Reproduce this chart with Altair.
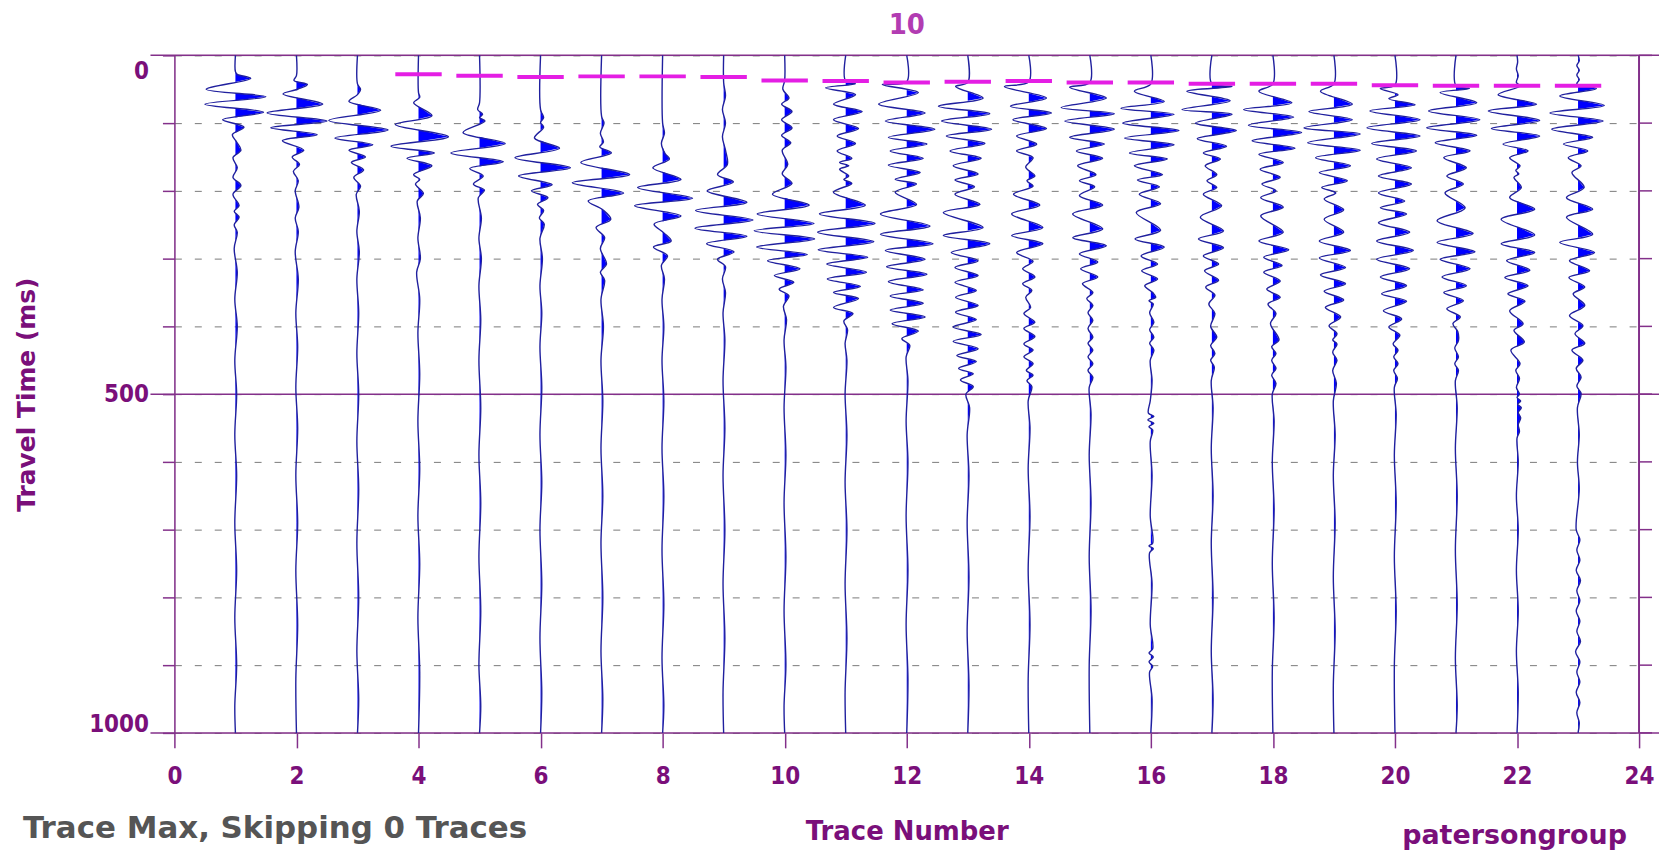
import altair as alt
import pandas as pd

# ---------------- data ----------------
TRACE_NUMBERS = list(range(1, 24))

# (travel time ms, amplitude in trace-spacing units) for each trace
TRACE_01 = [(0,0),(24,0),(28,0.03),(34,0.25),(50,-0.48),(61,0.5),(72,-0.5),(84,0.46),(95,-0.21),(106,0.14),(117,-0.05),(128,0.02),(140,0.09),(151,-0.04),(166,0.03),(180,-0.04),(192,0.09),(205,-0.04),(222,0.06),(230,-0.02),(239,0.06),(250,-0.02),(261,0.03),(285,-0.02),(320,0.03),(360,-0.01),(400,0.03),(450,-0.01),(500,0.02),(560,-0.01),(620,0.02),(690,-0.01),(760,0.02),(830,-0.01),(900,0.02),(960,-0.01),(1000,0)]
TRACE_02 = [(0,0),(30,0),(37,-0.04),(43,0.18),(50,0.02),(57,-0.22),(72,0.43),(85,-0.48),(97,0.5),(107,-0.42),(117,0.34),(126,-0.23),(140,0.12),(150,-0.07),(161,0.05),(171,-0.05),(185,0.03),(200,-0.02),(224,0.04),(240,-0.02),(260,0.03),(290,-0.02),(330,0.03),(380,-0.01),(430,0.02),(490,-0.01),(550,0.02),(620,-0.01),(690,0.02),(760,-0.01),(840,0.02),(920,-0.01),(1000,0)]
TRACE_03 = [(0,0),(42,0),(50,0.05),(58,0),(68,-0.14),(81,0.38),(96,-0.47),(110,0.5),(122,-0.37),(132,0.25),(140,-0.14),(150,0.13),(158,-0.1),(169,0.1),(180,-0.06),(193,0.05),(205,-0.02),(230,0.03),(260,-0.01),(290,0.03),(330,-0.01),(380,0.02),(440,-0.01),(500,0.02),(570,-0.01),(640,0.02),(720,-0.01),(800,0.02),(880,-0.01),(950,0.02),(1000,0)]
TRACE_04 = [(0,0),(55,0),(62,0.02),(70,-0.08),(89,0.22),(102,-0.38),(120,0.49),(134,-0.45),(144,0.26),(152,-0.19),(163,0.22),(176,-0.08),(183,0.02),(190,-0.05),(204,0.08),(215,-0.02),(240,0.03),(270,-0.01),(300,0.03),(320,-0.03),(360,0.02),(410,-0.01),(470,0.02),(540,-0.01),(610,0.02),(680,-0.01),(750,0.02),(830,-0.01),(910,0.02),(1000,0)]
TRACE_05 = [(0,0),(70,0),(80,-0.03),(87,0.05),(92,0),(97,0.09),(114,-0.27),(130,0.42),(144,-0.47),(157,0.39),(167,-0.16),(178,0.06),(190,-0.1),(199,0.08),(210,-0.02),(240,0.03),(270,-0.01),(300,0.03),(340,-0.01),(390,0.02),(450,-0.01),(520,0.02),(590,-0.01),(660,0.02),(740,-0.01),(820,0.02),(900,-0.01),(960,0.02),(1000,0)]
TRACE_06 = [(0,0),(80,0),(92,0.05),(99,0),(106,0.05),(122,-0.1),(137,0.31),(151,-0.42),(166,0.49),(178,-0.36),(191,0.19),(200,-0.15),(210,0.12),(220,-0.05),(229,0.05),(240,-0.02),(249,0.06),(270,-0.01),(300,0.03),(340,-0.01),(380,0.02),(430,-0.01),(490,0.02),(560,-0.01),(630,0.02),(700,-0.01),(780,0.02),(860,-0.01),(940,0.02),(1000,0)]
TRACE_07 = [(0,0),(90,0),(100,0.04),(115,-0.02),(128,0.03),(135,-0.03),(144,0.16),(158,-0.34),(176,0.46),(188,-0.48),(203,0.36),(215,-0.22),(228,0.02),(242,0.15),(254,-0.09),(269,0.05),(285,-0.02),(308,0.08),(320,-0.02),(332,0.05),(360,-0.01),(400,0.03),(450,-0.01),(510,0.02),(580,-0.01),(650,0.02),(720,-0.01),(800,0.02),(880,-0.01),(950,0.02),(1000,0)]
TRACE_08 = [(0,0),(100,0),(115,0.03),(130,-0.02),(145,0.04),(153,0.11),(166,-0.16),(183,0.3),(195,-0.41),(211,0.49),(222,-0.46),(237,0.3),(249,-0.14),(262,0.02),(274,0.14),(283,-0.15),(296,0.08),(310,-0.02),(330,0.03),(360,-0.01),(400,0.02),(450,-0.01),(510,0.02),(580,-0.01),(650,0.02),(730,-0.01),(810,0.02),(890,-0.01),(960,0.02),(1000,0)]
TRACE_09 = [(0,0),(40,0),(60,0.03),(80,-0.02),(100,0.03),(120,-0.02),(140,0.03),(161,0.06),(176,-0.1),(187,0.16),(200,-0.27),(217,0.38),(229,-0.46),(243,0.48),(255,-0.47),(267,0.38),(278,-0.28),(290,0.17),(301,-0.1),(312,0.03),(330,-0.02),(350,0.03),(380,-0.01),(420,0.02),(480,-0.01),(550,0.02),(620,-0.01),(700,0.02),(780,-0.01),(860,0.02),(940,-0.01),(1000,0)]
TRACE_10 = [(0,0),(37,0),(50,-0.03),(63,0.07),(72,-0.05),(83,0.12),(95,-0.05),(107,0.12),(118,-0.05),(129,0.1),(140,-0.04),(161,0.05),(175,-0.04),(189,0.12),(205,-0.2),(221,0.4),(234,-0.45),(248,0.48),(259,-0.5),(271,0.49),(283,-0.46),(294,0.37),(303,-0.28),(315,0.25),(325,-0.17),(335,0.15),(345,-0.09),(355,0.07),(370,-0.02),(390,0.03),(420,-0.01),(460,0.02),(520,-0.01),(590,0.02),(660,-0.01),(740,0.02),(820,-0.01),(900,0.02),(960,-0.01),(1000,0)]
TRACE_11 = [(0,0),(38,0),(42,0.16),(48,-0.33),(58,0.16),(72,-0.2),(83,0.27),(95,-0.2),(108,0.21),(119,-0.14),(130,0.16),(141,-0.14),(152,0.1),(158,-0.1),(163,0.05),(168,-0.1),(178,0.05),(183,-0.03),(189,0.1),(202,-0.2),(221,0.32),(234,-0.43),(248,0.48),(261,-0.46),(275,0.46),(287,-0.45),(298,0.36),(308,-0.31),(320,0.34),(330,-0.3),(341,0.24),(350,-0.2),(359,0.21),(372,-0.2),(381,0.12),(392,-0.03),(405,0.03),(425,-0.01),(450,0.02),(500,-0.01),(560,0.02),(630,-0.01),(700,0.02),(780,-0.01),(860,0.02),(940,-0.01),(1000,0)]
TRACE_12 = [(0,0),(39,0),(43,-0.4),(55,0.19),(72,-0.46),(85,0.3),(97,-0.35),(109,0.46),(121,-0.3),(131,0.33),(141,-0.27),(152,0.27),(162,-0.3),(173,0.22),(183,-0.19),(190,0.16),(202,-0.19),(220,0.16),(234,-0.43),(252,0.38),(264,-0.43),(278,0.43),(288,-0.35),(301,0.3),(312,-0.33),(323,0.33),(334,-0.3),(346,0.27),(355,-0.27),(366,0.27),(376,-0.27),(386,0.3),(396,-0.24),(407,0.19),(418,-0.08),(428,0.05),(445,-0.01),(480,0.02),(540,-0.01),(600,0.02),(680,-0.01),(760,0.02),(840,-0.01),(920,0.02),(1000,0)]
TRACE_13 = [(0,0),(40,0),(46,-0.2),(63,0.25),(75,-0.48),(86,0.36),(97,-0.43),(109,0.39),(119,-0.35),(130,0.28),(141,-0.29),(152,0.22),(163,-0.24),(175,0.17),(184,-0.21),(194,0.11),(205,-0.21),(220,0.2),(232,-0.4),(254,0.25),(266,-0.4),(278,0.36),(291,-0.27),(303,0.17),(313,-0.21),(325,0.17),(335,-0.21),(347,0.14),(357,-0.2),(369,0.17),(379,-0.2),(390,0.14),(401,-0.24),(412,0.22),(422,-0.24),(433,0.17),(443,-0.18),(452,0.14),(462,-0.15),(470,0.09),(479,-0.12),(489,0.09),(500,-0.03),(520,0.03),(560,-0.01),(620,0.02),(690,-0.01),(770,0.02),(850,-0.01),(930,0.02),(1000,0)]
TRACE_14 = [(0,0),(39,0),(46,-0.4),(63,0.29),(75,-0.3),(85,0.37),(95,-0.26),(108,0.29),(119,-0.2),(131,0.13),(141,-0.2),(151,0.07),(165,-0.05),(178,0.1),(185,-0.03),(193,0.07),(205,-0.25),(221,0.18),(234,-0.28),(254,0.23),(266,-0.28),(278,0.23),(291,-0.2),(304,0.07),(315,-0.1),(327,0.1),(337,-0.1),(347,0.05),(357,-0.05),(372,0.03),(381,-0.08),(394,0.1),(403,-0.08),(415,0.1),(426,-0.08),(435,0.07),(445,-0.08),(455,0.07),(465,-0.04),(472,0.07),(480,-0.03),(489,0.05),(510,-0.01),(550,0.02),(610,-0.01),(680,0.02),(760,-0.01),(840,0.02),(920,-0.01),(1000,0)]
TRACE_15 = [(0,0),(40,0),(47,-0.33),(63,0.27),(77,-0.47),(86,0.4),(97,-0.41),(109,0.4),(121,-0.33),(131,0.24),(141,-0.22),(152,0.21),(163,-0.2),(176,0.1),(185,-0.17),(194,0.08),(207,-0.17),(221,0.21),(234,-0.28),(256,0.21),(269,-0.28),(281,0.27),(293,-0.17),(305,0.13),(315,-0.15),(327,0.13),(337,-0.12),(350,0.05),(359,-0.05),(369,0.05),(380,-0.03),(391,0.05),(403,-0.03),(416,0.05),(425,-0.03),(435,0.05),(445,-0.03),(455,0.05),(465,-0.03),(475,0.05),(490,-0.01),(530,0.02),(590,-0.01),(660,0.02),(740,-0.01),(820,0.02),(900,-0.01),(1000,0)]
TRACE_16 = [(0,0),(42,0),(53,-0.27),(68,0.22),(78,-0.49),(87,0.38),(100,-0.46),(111,0.46),(122,-0.43),(132,0.38),(144,-0.35),(153,0.27),(163,-0.27),(176,0.19),(184,-0.22),(194,0.14),(205,-0.19),(219,0.16),(232,-0.24),(258,0.16),(271,-0.26),(283,0.22),(296,-0.16),(308,0.11),(318,-0.15),(330,0.11),(340,-0.1),(350,0.03),(357,0.08),(362,-0.03),(367,0.04),(380,-0.02),(394,0.05),(405,-0.02),(416,0.05),(425,-0.02),(435,0.05),(450,-0.01),(480,0.02),(510,-0.01),(528,-0.04),(533,0.05),(538,-0.05),(543,0.05),(548,-0.03),(553,0.03),(570,-0.01),(620,0.02),(680,-0.01),(720,0.03),(724,-0.03),(728,0.04),(734,-0.02),(780,0.02),(840,-0.01),(876,0.03),(882,-0.03),(888,0.04),(895,-0.03),(902,0.03),(910,-0.02),(950,0.02),(1000,0)]
TRACE_17 = [(0,0),(42,0),(46,0.33),(53,-0.41),(67,0.3),(80,-0.49),(87,0.33),(100,-0.27),(111,0.4),(123,-0.24),(134,0.24),(144,-0.14),(153,0.14),(163,-0.11),(176,0.08),(185,-0.08),(195,0.08),(205,-0.14),(222,0.16),(239,-0.19),(259,0.19),(271,-0.22),(284,0.19),(296,-0.14),(308,0.11),(318,-0.12),(332,0.11),(342,-0.1),(354,0.05),(367,-0.05),(381,0.05),(400,-0.02),(416,0.08),(428,-0.02),(440,0.05),(450,-0.02),(460,0.04),(480,-0.01),(520,0.02),(580,-0.01),(650,0.02),(720,-0.01),(800,0.02),(880,-0.01),(950,0.02),(1000,0)]
TRACE_18 = [(0,0),(42,0),(53,-0.23),(70,0.31),(80,-0.48),(91,0.34),(103,-0.4),(114,0.47),(126,-0.34),(137,0.36),(146,-0.23),(158,0.17),(168,-0.21),(180,0.12),(190,-0.18),(200,0.05),(210,-0.2),(224,0.17),(237,-0.2),(261,0.17),(274,-0.23),(287,0.26),(298,-0.15),(310,0.15),(320,-0.15),(333,0.12),(345,-0.1),(357,0.12),(367,-0.08),(381,0.05),(396,-0.04),(420,0.1),(430,-0.02),(440,0.05),(450,-0.02),(462,0.05),(472,-0.02),(484,0.05),(500,-0.01),(540,0.02),(600,-0.01),(670,0.02),(750,-0.01),(830,0.02),(910,-0.01),(1000,0)]
TRACE_19 = [(0,0),(42,0),(53,-0.22),(72,0.3),(83,-0.41),(95,0.3),(107,-0.49),(116,0.43),(129,-0.43),(140,0.43),(151,-0.3),(163,0.27),(173,-0.24),(185,0.22),(195,-0.2),(203,0.03),(212,-0.16),(228,0.16),(242,-0.16),(261,0.16),(274,-0.24),(288,0.27),(299,-0.24),(313,0.19),(324,-0.22),(337,0.19),(348,-0.16),(361,0.16),(372,-0.14),(386,0.11),(399,-0.08),(411,0.05),(420,-0.02),(426,0.05),(438,-0.02),(450,0.05),(465,-0.02),(484,0.04),(510,-0.01),(560,0.02),(620,-0.01),(690,0.02),(770,-0.01),(850,0.02),(930,-0.01),(1000,0)]
TRACE_20 = [(0,0),(44,0),(49,-0.24),(58,0.05),(64,-0.1),(73,0.33),(82,-0.41),(95,0.41),(107,-0.46),(119,0.41),(130,-0.38),(141,0.35),(153,-0.3),(166,0.27),(178,-0.27),(190,0.27),(203,-0.27),(215,0.16),(225,-0.24),(234,0.19),(247,-0.27),(261,0.24),(274,-0.3),(288,0.3),(301,-0.3),(315,0.24),(327,-0.24),(340,0.19),(352,-0.22),(363,0.19),(377,-0.19),(389,0.11),(401,-0.1),(413,0.08),(426,-0.03),(435,0.05),(445,-0.02),(455,0.05),(465,-0.02),(477,0.04),(490,-0.01),(530,0.02),(590,-0.01),(660,0.02),(740,-0.01),(820,0.02),(900,-0.01),(1000,0)]
TRACE_21 = [(0,0),(45,0),(49,0.22),(55,-0.26),(70,0.34),(82,-0.45),(95,0.39),(107,-0.48),(118,0.34),(129,-0.34),(141,0.23),(151,-0.2),(166,0.17),(178,-0.15),(190,0.12),(203,-0.18),(225,0.15),(244,-0.31),(263,0.28),(276,-0.31),(290,0.31),(301,-0.26),(315,0.23),(327,-0.23),(340,0.17),(350,-0.2),(362,0.12),(374,-0.15),(386,0.07),(396,-0.05),(408,0.03),(421,0.04),(432,-0.02),(445,0.04),(455,-0.02),(465,0.04),(480,-0.01),(520,0.02),(580,-0.01),(650,0.02),(730,-0.01),(810,0.02),(890,-0.01),(960,0.02),(1000,0)]
TRACE_22 = [(0,0),(10,0.01),(20,-0.01),(30,0.02),(40,-0.01),(45,0.05),(58,-0.31),(72,0.32),(82,-0.47),(96,0.37),(108,-0.42),(119,0.37),(131,-0.23),(141,0.18),(151,-0.12),(163,0.05),(170,-0.02),(175,0.03),(180,-0.05),(195,0.07),(210,-0.12),(227,0.29),(242,-0.26),(265,0.29),(278,-0.26),(291,0.29),(303,-0.17),(317,0.21),(328,-0.2),(340,0.18),(352,-0.15),(363,0.13),(377,-0.12),(396,0.1),(406,-0.05),(423,0.12),(435,-0.1),(455,0.05),(465,-0.02),(477,0.04),(490,-0.01),(500,0.04),(505,0.0),(510,0.06),(515,0.01),(520,0.07),(527,0.02),(535,0.06),(545,0.02),(555,0.04),(565,0.0),(600,0.02),(650,-0.01),(700,0.02),(760,-0.01),(820,0.02),(880,-0.01),(940,0.02),(1000,0)]
TRACE_23 = [(0,0),(8,0.02),(15,-0.02),(22,0.02),(29,-0.02),(36,0.02),(42,-0.02),(49,0.3),(60,-0.3),(74,0.43),(85,-0.46),(97,0.41),(109,-0.43),(121,0.24),(131,-0.24),(141,0.16),(151,-0.16),(163,0.05),(173,-0.1),(195,0.1),(210,-0.19),(227,0.24),(239,-0.19),(264,0.24),(276,-0.3),(291,0.27),(303,-0.14),(318,0.19),(328,-0.15),(342,0.11),(352,-0.08),(369,0.11),(384,-0.14),(399,0.08),(411,-0.05),(425,0.11),(435,-0.1),(450,0.08),(462,-0.03),(475,0.05),(488,-0.02),(499,0.05),(520,-0.01),(560,0.02),(600,-0.01),(640,0.02),(700,-0.03),(715,0.03),(730,-0.02),(745,0.03),(760,-0.03),(775,0.04),(790,-0.02),(805,0.03),(820,-0.03),(835,0.03),(850,-0.02),(865,0.04),(880,-0.04),(895,0.03),(910,-0.02),(925,0.03),(940,-0.03),(955,0.03),(970,-0.02),(985,0.02),(1000,0)]

TRACES = [TRACE_01, TRACE_02, TRACE_03, TRACE_04, TRACE_05, TRACE_06, TRACE_07, TRACE_08,
          TRACE_09, TRACE_10, TRACE_11, TRACE_12, TRACE_13, TRACE_14, TRACE_15, TRACE_16,
          TRACE_17, TRACE_18, TRACE_19, TRACE_20, TRACE_21, TRACE_22, TRACE_23]

# first-break picks (magenta dashed line)
PICK_TRACES = list(range(4, 24))
PICK_MS = [28, 30, 32, 31, 31, 32, 37, 38, 40, 39, 38, 40, 40, 42, 42, 42, 44, 45, 45, 45]

Y_TICKS = list(range(0, 1001, 100))
Y_FRAME = [0, 500, 1000]
X_TICKS = list(range(0, 25, 2))

TITLE_TEXT = "10"
X_TITLE = "Trace Number"
Y_TITLE = "Travel Time (ms)"
FOOTER_LEFT = "Trace Max, Skipping 0 Traces"
FOOTER_RIGHT = "patersongroup"

# ---------------- tables ----------------
line_rows, fill_rows = [], []
for k, pts in zip(TRACE_NUMBERS, TRACES):
    prev = None
    for i, (t, a) in enumerate(pts):
        line_rows.append({"trace": k, "i": i, "t": t, "x": k + a})
        if prev is not None and prev[1] * a < 0:
            t0, a0 = prev
            tc = t0 + (t - t0) * a0 / (a0 - a)   # where the trace meets its baseline
            fill_rows.append({"trace": k, "t": tc, "fx": k, "base": k})
        fill_rows.append({"trace": k, "t": t, "fx": k + max(a, 0.0), "base": k})
        prev = (t, a)
line_df = pd.DataFrame(line_rows)
fill_df = pd.DataFrame(fill_rows)
pick_df = pd.DataFrame({"trace": PICK_TRACES, "t": PICK_MS})
pick_df["x0"] = pick_df["trace"] - 0.38
pick_df["x1"] = pick_df["trace"] + 0.38
frame_df = pd.DataFrame({"t": Y_FRAME})
tick_df = pd.DataFrame({"t": Y_TICKS})

# ---------------- styles ----------------
W, H = 1470, 680
PURPLE_TEXT = "#7a0f7a"
PURPLE_LINE = "#83308a"
NARROW = "Liberation Sans Narrow, DejaVu Sans Condensed, sans-serif"
WIDE = "DejaVu Sans, sans-serif"

XS = alt.Scale(domain=[0, 24], nice=False, zero=False)
YS = alt.Scale(domain=[0, 1000], reverse=True, nice=False, zero=False)

X_AXIS = alt.Axis(values=X_TICKS, format="d", labelFont=NARROW, labelFontSize=24,
                  labelFontWeight="bold", labelColor=PURPLE_TEXT, labelBaseline="middle",
                  labelPadding=29, labelFlush=False, tickColor=PURPLE_LINE, tickSize=15,
                  tickWidth=1.5, domain=False, grid=False, title=X_TITLE, titleFont=WIDE,
                  titleFontSize=26, titleFontWeight="bold", titleColor=PURPLE_TEXT,
                  titleX=735, titleY=99, titleAlign="center", titleBaseline="middle")
Y_AXIS = alt.Axis(values=Y_TICKS, format="d",
                  labelExpr="datum.value % 500 === 0 ? datum.label : ''",
                  labelFont=NARROW, labelFontSize=24, labelFontWeight="bold",
                  labelColor=PURPLE_TEXT, labelPadding=14, labelFlush=True, labelFlushOffset=4,
                  labelOffset={"condition": {"test": "datum.value === 0", "value": 8}, "value": 0},
                  tickColor=PURPLE_LINE, tickSize=12, tickWidth=1.5, domainColor=PURPLE_LINE,
                  domainWidth=1.5, grid=True, gridColor="#7a7a7a", gridDash=[7, 13],
                  gridWidth=1, title=Y_TITLE, titleFont=WIDE, titleFontSize=25,
                  titleFontWeight="bold", titleColor=PURPLE_TEXT, titleX=-148, titleY=340,
                  titleAngle=270, titleAlign="center", titleBaseline="middle")

# ---------------- layers ----------------
frame = alt.Chart(frame_df).mark_rule(color=PURPLE_LINE, strokeWidth=1.5).encode(
    y=alt.Y("t:Q", scale=YS, axis=Y_AXIS), x=alt.value(-24), x2=alt.value(W + 20))

right_border = alt.Chart(frame_df).mark_rule(color=PURPLE_LINE, strokeWidth=1.5).encode(
    x=alt.value(W), y=alt.value(0), y2=alt.value(H))

right_ticks = alt.Chart(tick_df).mark_rule(color=PURPLE_LINE, strokeWidth=1.5).encode(
    y=alt.Y("t:Q", scale=YS, axis=Y_AXIS), x=alt.value(W), x2=alt.value(W + 13))

fill = alt.Chart(fill_df).mark_area(orient="horizontal", color="#0000ff", opacity=1,
                                    interpolate="linear").encode(
    y=alt.Y("t:Q", scale=YS, axis=Y_AXIS),
    x=alt.X("fx:Q", scale=XS, axis=X_AXIS, stack=None),
    x2=alt.X2("base:Q"),
    detail="trace:N")

wiggle = alt.Chart(line_df).mark_line(color="#20209e", strokeWidth=1.4,
                                      interpolate="catmull-rom").encode(
    y=alt.Y("t:Q", scale=YS, axis=Y_AXIS),
    x=alt.X("x:Q", scale=XS, axis=X_AXIS),
    detail="trace:N",
    order=alt.Order("i:Q"))

picks = alt.Chart(pick_df).mark_rule(color="#e41ee4", strokeWidth=4, strokeCap="butt").encode(
    y=alt.Y("t:Q", scale=YS, axis=Y_AXIS),
    x=alt.X("x0:Q", scale=XS, axis=X_AXIS),
    x2=alt.X2("x1:Q"))

one = pd.DataFrame({"k": [0]})
title_txt = alt.Chart(one).mark_text(text=TITLE_TEXT, font=NARROW, fontSize=29,
                                     fontWeight="bold", color="#b23cb2",
                                     baseline="middle", align="center").encode(
    x=alt.value(W / 2), y=alt.value(-30))
footer_l = alt.Chart(one).mark_text(text=FOOTER_LEFT, font=WIDE, fontSize=31,
                                    fontWeight="bold", color="#555555",
                                    baseline="middle", align="left").encode(
    x=alt.value(-152), y=alt.value(776))
footer_r = alt.Chart(one).mark_text(text=FOOTER_RIGHT, font=WIDE, fontSize=27,
                                    fontWeight="bold", color=PURPLE_TEXT,
                                    baseline="middle", align="center").encode(
    x=alt.value(1345), y=alt.value(784))

chart = alt.layer(frame, right_border, right_ticks, fill, wiggle, picks,
                  title_txt, footer_l, footer_r).properties(
    width=W, height=H,
    autosize=alt.AutoSizeParams(type="none"),
    padding={"left": 167, "top": 46, "right": 20, "bottom": 120},
).configure_view(stroke=None).configure(background="white")

chart.save("out.html", embed_options={"renderer": "svg", "actions": False})
